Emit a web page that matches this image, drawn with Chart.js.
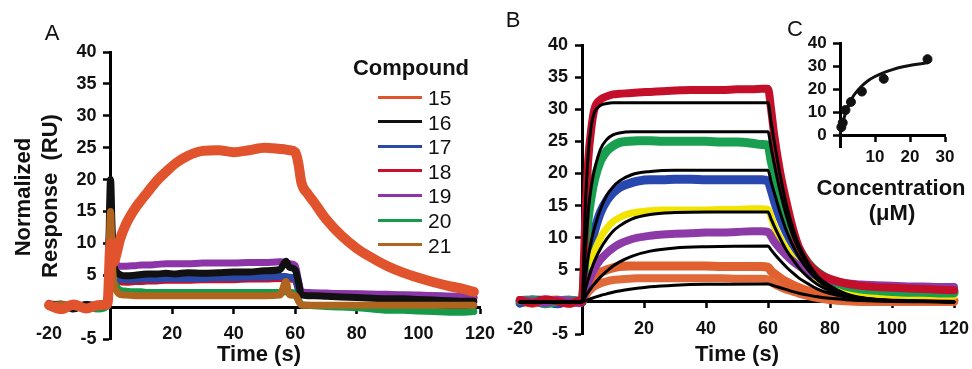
<!DOCTYPE html>
<html>
<head>
<meta charset="utf-8">
<script src="https://cdn.jsdelivr.net/npm/chart.js@4.4.1/dist/chart.umd.min.js"></script>
<style>
body { margin: 0; background: #fff; width: 972px; height: 369px; overflow: hidden; position: relative; font-family: "Liberation Sans", Arial, sans-serif; }
canvas { position: absolute; left: 0; top: 0; }
.t { position: absolute; white-space: nowrap; color: #111; line-height: 1; transform: translate(-50%, -50%); }
.b { font-weight: bold; }
.rot { transform: translate(-50%, -50%) rotate(-90deg); }
.key { position: absolute; left: 378px; width: 44px; height: 3px; }
.keylbl { position: absolute; left: 428px; font-size: 21px; line-height: 1; transform: translateY(-50%); color: #111; }
</style>
</head>
<body>
<canvas id="chartA" width="972" height="369"></canvas>
<canvas id="chartB" width="972" height="369"></canvas>
<canvas id="chartC" width="972" height="369"></canvas>

<div class="t" style="left:52px;top:33px;font-size:22px;">A</div>
<div class="t" style="left:513px;top:20px;font-size:22px;">B</div>
<div class="t" style="left:795px;top:29px;font-size:22px;">C</div>
<div class="t b rot" style="left:23px;top:197px;font-size:22px;">Normalized</div>
<div class="t b rot" style="left:50px;top:196px;font-size:22px;">Response&nbsp;&nbsp;(RU)</div>
<div class="t b" style="left:259px;top:354px;font-size:22px;">Time (s)</div>
<div class="t b" style="left:737px;top:354px;font-size:22px;">Time (s)</div>
<div class="t b" style="left:891px;top:188px;font-size:22px;">Concentration</div>
<div class="t b" style="left:892px;top:213px;font-size:22px;">(μM)</div>
<div class="t b" style="left:411px;top:68px;font-size:22px;">Compound</div>
<div id="legendA"></div>

<script>
// ---- panel A: normalized response of each compound ----
const compounds = ['15', '16', '17', '18', '19', '20', '21'];
const compoundColors = ['#e0532c', '#111111', '#2b4aa8', '#c8102e', '#8b35a8', '#17994a', '#b0651e'];

const tA = [-20,-16,-12,-8,-4,-1, 0,0.5,1,2,3, 5,8,10,12,15, 18,21,25,30,35, 40,45,50,55,57, 58,60,61,62,64, 66,70,75,80,85, 90,95,100,105,110, 115,118];
const c15 = [0.3,-0.3,0.4,-0.2,0.3,0.5, 10,8,7,8.5,10.5, 13,15.5,16.8,18,19.8, 21.2,22.5,23.7,24.5,24.6, 24.3,24.6,25,24.8,24.7, 24.6,24.3,22.5,19.5,17.8, 16.5,13.8,11.2,9.2,7.7, 6.4,5.4,4.6,3.9,3.3, 2.8,2.4];
const c16 = [0.3,0.5,-0.3,0.4,0.1,0.6, 20,12,7,5.5,5.1, 4.9,5,5.1,5.2,5.2, 5.3,5.2,5.4,5.3,5.4, 5.5,5.5,5.7,5.9,7.2, 6.3,5.8,4,1.9,1.8, 1.8,1.7,1.6,1.5,1.4, 1.3,1.3,1.2,1.1,1.0, 0.9,0.9];
const c17 = [0.5,0.3,-0.2,0.4,0.2,0.3, 16,10,6.5,4.7,4.4, 4.3,4.3,4.4,4.4,4.4, 4.5,4.5,4.5,4.5,4.6, 4.6,4.7,4.7,4.8,4.8, 4.7,4.5,3,2.3,2.2, 2.2,2.1,2.1,2,2, 1.9,1.9,1.8,1.8,1.7, 1.7,1.6];
const c18 = [0.6,-0.2,0.5,0.1,0.4,0.2, 16,9,5.5,4.3,4, 3.9,4,4,4.1,4.1, 4.2,4.2,4.2,4.3,4.3, 4.3,4.4,4.4,4.5,4.5, 4.4,4.2,2.8,2.1,2, 2,1.9,1.9,1.8,1.8, 1.7,1.7,1.6,1.6,1.5, 1.5,1.4];
const c19 = [0.4,0.2,0.5,-0.2,0.3,0.4, 17,11,8,6.7,6.4, 6.4,6.5,6.6,6.6,6.7, 6.8,6.8,6.8,6.9,6.9, 6.9,7,7,7.1,7, 6.8,6.5,4.2,2.4,2.3, 2.2,2.2,2.1,2.1,2, 2,1.9,1.9,1.8,1.7, 1.6,1.5];
const c20 = [0.2,-0.4,0.3,0.2,-0.3,0.2, 15,9,5,3.2,2.7, 2.5,2.4,2.4,2.3,2.3, 2.3,2.3,2.3,2.3,2.3, 2.3,2.3,2.3,2.3,2.4, 2.3,2.2,1.2,0.4,0.3, 0.2,0.1,0,-0.1,-0.3, -0.5,-0.5,-0.6,-0.7,-0.8, -0.8,-0.7];
const c21 = [0.2,0.4,0.1,-0.2,0.5,0.8, 15,8,4,2.5,2, 1.9,1.8,1.8,1.8,1.8, 1.8,1.8,1.8,1.8,1.8, 1.8,1.8,1.8,1.9,4, 2,1.8,1,0.3,0.3, 0.3,0.3,0.3,0.3,0.3, 0.3,0.3,0.3,0.3,0.3, 0.3,0.3];

// ---- panel B: concentration series of one compound with fits ----
const tB = [-20,-16,-12,-8,-4, -1,0,1,2,3, 4,6,8,10,12, 15,18,22,26,30, 35,40,45,50,55, 58,60,61,62,64, 66,68,70,73,76, 80,85,90,95,100, 105,110,115,120];
const b25 = [0.3,-0.2,0.4,0.1,-0.3, 0.2,0,12,22,27, 30,31.5,32,32.3,32.4, 32.5,32.6,32.7,32.8,32.9, 33,33,33,33.1,33.1, 33.2,33.2,30,26,20, 15.5,11.5,8.5,6,4.6, 3.6,2.9,2.5,2.3,2.2, 2.1,2,1.9,1.8];
const b12 = [0.2,0.3,-0.3,0.1,0.3, -0.1,0,7,13,16.5, 19,22,23.5,24.3,24.8, 25,25.1,25.1,25,25, 25,25,24.9,24.9,24.7, 24.5,24.4,22,20,16.5, 13.2,10.3,8.2,6,4.6, 3.4,2.5,2,1.8,1.6, 1.5,1.5,1.4,1.4];
const b6 = [-0.2,0.3,0.2,-0.3,0.2, 0.1,0,3.5,6.5,9, 11,14,15.8,17,17.8, 18.4,18.8,19,19,19.1, 19.1,19,19,19,19, 19,18.8,17.5,15.8,13, 10.8,9,7.5,5.6,4.3, 3.2,2.5,2.1,1.9,1.8, 1.8,1.7,1.7,1.7];
const b3 = [0.2,-0.2,0.3,0.2,-0.1, 0.2,0,2.5,4.5,6.3, 7.8,10,11.5,12.5,13.1, 13.7,14,14.2,14.3,14.3, 14.3,14.3,14.4,14.4,14.5, 14.5,14.4,13.2,11.8,9.8, 8.2,6.8,5.6,4.3,3.3, 2.5,1.8,1.4,1.2,1.1, 1,1,1,0.9];
const b1 = [0.3,0.1,-0.2,0.3,0.2, -0.2,0,1.5,3,4.2, 5.2,6.6,7.6,8.4,9, 9.6,10,10.3,10.5,10.6, 10.7,10.8,10.8,10.9,11, 11,10.9,10.2,9.4,8.2, 7.2,6.3,5.6,4.7,4, 3.4,2.9,2.7,2.6,2.5, 2.4,2.4,2.3,2.3];
const b08 = [0.2,-0.2,0.1,0.3,-0.2, 0.1,0,1.4,2.5,3.3, 3.9,4.6,5,5.3,5.5, 5.6,5.6,5.6,5.6,5.6, 5.6,5.6,5.5,5.5,5.5, 5.5,5.4,4.8,4.4,3.7, 3.1,2.6,2.2,1.7,1.3, 0.9,0.6,0.4,0.3,0.2, 0.2,0.2,0.2,0.2];
const b04 = [-0.2,0.2,0.1,-0.2,0.3, 0.1,0,0.8,1.5,2, 2.4,2.9,3.2,3.4,3.5, 3.6,3.7,3.7,3.7,3.7, 3.7,3.7,3.7,3.6,3.6, 3.6,3.5,3.1,2.8,2.3, 1.9,1.6,1.3,0.9,0.6, 0.3,0.1,0,0,0, 0,0,0,0];

const tFit = [-20,0,1,2,3, 4,6,8,10,12, 16,22,30,40,60, 61,62,64,66,68, 70,73,76,80,85, 90,100,110,120];
const fit1 = [0,0,14,23,27.5, 29.5,30.6,30.9,31,31, 31,31,31,31,31, 28,25,19.5,15,11.5, 8.8,6,4,2.5,1.3, 0.7,0.2,0.1,0];
const fit2 = [0,0,7.5,14,18, 20.5,23.8,25.3,26,26.3, 26.5,26.5,26.5,26.5,26.5, 24,21.5,17,13.3,10.4, 8.1,5.6,3.8,2.3,1.2, 0.6,0.2,0.1,0];
const fit3 = [0,0,3.8,7,9.5, 11.5,14.5,16.6,17.9,18.8, 19.8,20.3,20.5,20.5,20.5, 18.7,17,13.8,11,8.8, 7,4.9,3.4,2.1,1.1, 0.6,0.2,0.1,0];
const fit4 = [0,0,1.8,3.5,5, 6.3,8.3,9.8,11,11.8, 12.9,13.6,13.9,14,14, 12.9,11.8,9.8,8,6.6, 5.3,3.8,2.7,1.7,0.9, 0.5,0.2,0.1,0];
const fit5 = [0,0,0.8,1.5,2.2, 2.8,3.9,4.8,5.6,6.2, 7.1,7.9,8.4,8.6,8.7, 8.1,7.5,6.4,5.4,4.5, 3.7,2.8,2,1.3,0.8, 0.4,0.1,0.05,0];
const fit6 = [0,0,0.18,0.35,0.53, 0.7,1,1.25,1.5,1.7, 2,2.35,2.6,2.75,2.8, 2.65,2.5,2.2,1.9,1.6, 1.35,1.05,0.8,0.55,0.35, 0.2,0.07,0.03,0];

// ---- panel C: steady state response vs concentration ----
const concs = [0.39, 0.78, 1.56, 3.125, 6.25, 12.5, 25];
const steadyResp = [3.6, 5.5, 11, 14.5, 19, 24.5, 33];
const curveConc = [0,0.5,1,2,3,4,6,8,10,12.5,15,18,21,25];
const curveResp = [0,3.7,6.7,11.4,14.8,17.5,21.1,23.7,25.5,27.2,28.5,29.7,30.6,31.4];

// tick labels
const xTicksAB = [-20, 20, 40, 60, 80, 100, 120];
const yTicksAB = [-5, 0, 5, 10, 15, 20, 25, 30, 35, 40];
const xTicksC = [10, 20, 30];
const yTicksC = [0, 10, 20, 30, 40];

function pts(xs, ys) {
    return xs.map((x, i) => ({x: x, y: ys[i]}));
}

function trace(xs, ys, color, width) {
    return {
        data: pts(xs, ys), borderColor: color, borderWidth: width,
        pointRadius: 0, cubicInterpolationMode: 'monotone',
        borderJoinStyle: 'round', borderCapStyle: 'round', clip: false
    };
}

// axes cross at zero; y labels are right aligned on the axis line, so pad them with spaces
function scalesFor(xr, yr, xt, yt, fontSize, hideX, xPad) {
    const font = {family: '"Liberation Sans", Arial, sans-serif', size: fontSize, weight: 'bold'};
    return {
        x: {
            type: 'linear', min: xr[0], max: xr[1], position: {y: 0},
            afterBuildTicks: s => { s.ticks = xt.map(v => ({value: v})); },
            afterFit: s => { s.height = 0; s.paddingLeft = 0; s.paddingRight = 0; },
            grid: {drawOnChartArea: false, tickLength: 5, tickWidth: 2.5,
                   tickColor: c => (c.tick && c.tick.value === hideX) ? 'rgba(0,0,0,0)' : '#000'},
            border: {display: true, color: '#000', width: 3},
            ticks: {font: font, color: '#111', padding: xPad, maxRotation: 0, autoSkip: false}
        },
        y: {
            type: 'linear', min: yr[0], max: yr[1], position: {x: xr[0] < 0 ? 0 : xr[0]},
            afterBuildTicks: s => { s.ticks = yt.map(v => ({value: v})); },
            afterFit: s => { s.width = 0; s.paddingTop = 0; s.paddingBottom = 0; },
            grid: {drawOnChartArea: false, tickLength: 6, tickWidth: 2.5, tickColor: '#000'},
            border: {display: true, color: '#000', width: 3},
            ticks: {font: font, color: '#111', padding: 4, autoSkip: false,
                    callback: v => (v === 0 && xr[0] < 0) ? '' : v + '\u2002 '}
        }
    };
}

function baseOptions(pad, scales) {
    return {
        responsive: false, animation: false, events: [],
        layout: {padding: pad},
        plugins: {legend: {display: false}, tooltip: {enabled: false}},
        scales: scales
    };
}

// panel A
const seriesA = [c15, c16, c17, c18, c19, c20, c21];
const drawOrderA = [0, 6, 1, 4, 2, 5, 3]; // first drawn on top
new Chart(document.getElementById('chartA'), {
    type: 'line',
    data: {
        datasets: drawOrderA.map(i => trace(tA, seriesA[i], compoundColors[i], i === 0 ? 10 : 7))
    },
    options: baseOptions({left: 49, right: 492, top: 52, bottom: 30},
        scalesFor([-20, 120], [-5, 40], xTicksAB, yTicksAB, 18, -20, 11))
});

// legend for panel A
const legendA = document.getElementById('legendA');
compounds.forEach((name, i) => {
    const y = 97 + i * 24.6;
    legendA.insertAdjacentHTML('beforeend',
        '<div class="key" style="top:' + (y - 1.5) + 'px;background:' + compoundColors[i] + '"></div>' +
        '<div class="keylbl" style="top:' + y + 'px">' + name + '</div>');
});

// panel B
new Chart(document.getElementById('chartB'), {
    type: 'line',
    data: {
        datasets: [
            trace(tFit, fit1, '#000', 3),
            trace(tFit, fit2, '#000', 3),
            trace(tFit, fit3, '#000', 3),
            trace(tFit, fit4, '#000', 3),
            trace(tFit, fit5, '#000', 3),
            trace(tFit, fit6, '#000', 3),
            trace(tB, b25, '#c40f2a', 8),
            trace(tB, b1, '#8b3aa8', 8),
            trace(tB, b12, '#18a050', 9),
            trace(tB, b3, '#f0e400', 7),
            trace(tB, b6, '#2848b0', 9),
            trace(tB, b08, '#e06030', 9),
            trace(tB, b04, '#e06a3a', 8)
        ]
    },
    options: baseOptions({left: 520, right: 18, top: 45, bottom: 35},
        scalesFor([-20, 120], [-5, 40], xTicksAB, yTicksAB, 18, -20, 11))
});

// panel C
new Chart(document.getElementById('chartC'), {
    type: 'line',
    data: {
        datasets: [
            {data: pts(concs, steadyResp), showLine: false, pointRadius: 4.5,
             pointBackgroundColor: '#111', pointBorderColor: '#111', clip: false},
            trace(curveConc, curveResp, '#111', 3)
        ]
    },
    options: baseOptions({left: 840, right: 27, top: 43, bottom: 222},
        scalesFor([0, 30], [-5, 40], xTicksC, yTicksC, 17, null, 7))
});
</script>
</body>
</html>
